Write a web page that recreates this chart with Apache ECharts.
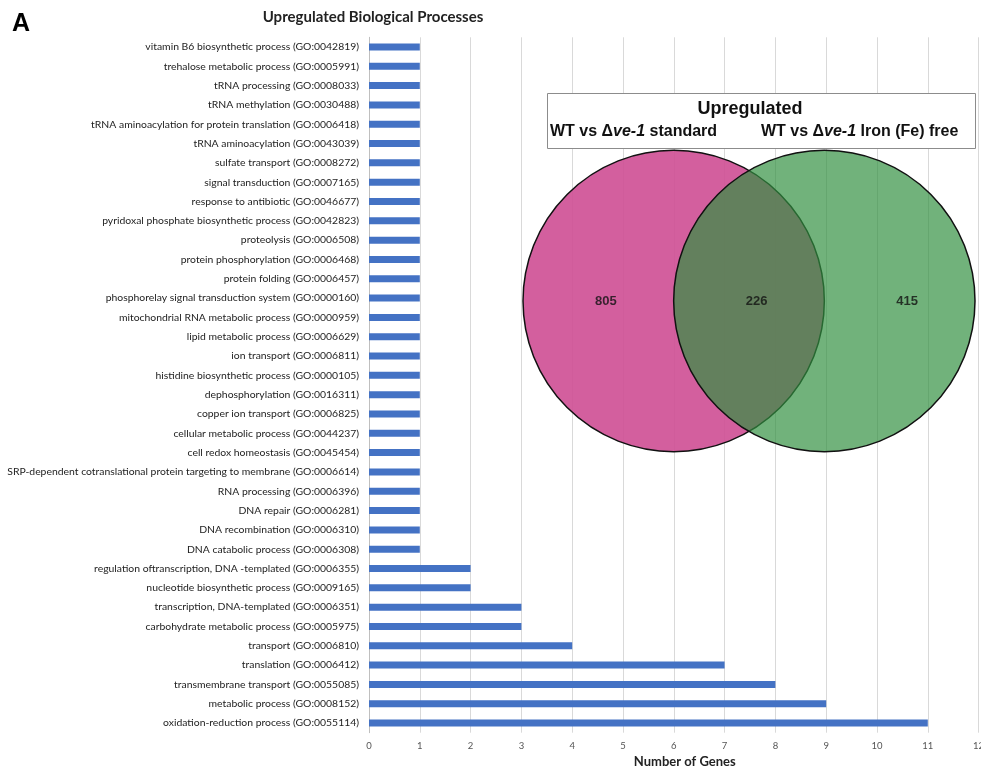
<!DOCTYPE html>
<html>
<head>
<meta charset="utf-8">
<script src="https://cdn.jsdelivr.net/npm/echarts@6/dist/echarts.min.js"></script>
<style>html,body{margin:0;padding:0;background:#fff}#c{width:981px;height:767px}</style>
</head>
<body>
<div id="c"></div>
<script>
// ---- Data ----
const categories = [
  'vitamin B6 biosynthetic process (GO:0042819)',
  'trehalose metabolic process (GO:0005991)',
  'tRNA processing (GO:0008033)',
  'tRNA methylation (GO:0030488)',
  'tRNA aminoacylation for protein translation (GO:0006418)',
  'tRNA aminoacylation (GO:0043039)',
  'sulfate transport (GO:0008272)',
  'signal transduction (GO:0007165)',
  'response to antibiotic (GO:0046677)',
  'pyridoxal phosphate biosynthetic process (GO:0042823)',
  'proteolysis (GO:0006508)',
  'protein phosphorylation (GO:0006468)',
  'protein folding (GO:0006457)',
  'phosphorelay signal transduction system (GO:0000160)',
  'mitochondrial RNA metabolic process (GO:0000959)',
  'lipid metabolic process (GO:0006629)',
  'ion transport (GO:0006811)',
  'histidine biosynthetic process (GO:0000105)',
  'dephosphorylation (GO:0016311)',
  'copper ion transport (GO:0006825)',
  'cellular metabolic process (GO:0044237)',
  'cell redox homeostasis (GO:0045454)',
  'SRP-dependent cotranslational protein targeting to membrane (GO:0006614)',
  'RNA processing (GO:0006396)',
  'DNA repair (GO:0006281)',
  'DNA recombination (GO:0006310)',
  'DNA catabolic process (GO:0006308)',
  'regulation oftranscription, DNA -templated (GO:0006355)',
  'nucleotide biosynthetic process (GO:0009165)',
  'transcription, DNA-templated (GO:0006351)',
  'carbohydrate metabolic process (GO:0005975)',
  'transport (GO:0006810)',
  'translation (GO:0006412)',
  'transmembrane transport (GO:0055085)',
  'metabolic process (GO:0008152)',
  'oxidation-reduction process (GO:0055114)'
];
const geneCounts = [
  1,1,1,1,1,1,1,1,1,1,1,1,1,1,1,1,1,1,1,1,1,1,1,1,1,1,1,
  2,2,3,3,4,7,8,9,11
];
const xTicks = [0,1,2,3,4,5,6,7,8,9,10,11,12];

// Venn diagram data
const vennTitle = 'Upregulated';
const vennSets = ['WT vs Δve-1 standard', 'WT vs Δve-1 Iron (Fe) free'];
const vennCounts = [805, 226, 415]; // left only, both, right only

// ---- Layout / style ----
const setColors = ['rgba(206,78,148,0.9)', 'rgba(49,143,64,0.69)'];
const circleData = vennSets.map((s, i) => [i + 1, 0, s]);
const countData = vennCounts.map((c, i) => [i + 0.55, 0, c]);
const richI = { i: { fontStyle: 'italic', fontWeight: 'bold', fontSize: 16, fontFamily: 'Liberation Sans', fill: '#111' } };

const chart = echarts.init(document.getElementById('c'));
chart.setOption({
  animation: false,
  backgroundColor: '#fff',
  textStyle: { fontFamily: 'Lato' },
  grid: [
    { left: 369, right: 2.4, top: 37.3, bottom: 34.3, containLabel: false, outerBoundsMode: 'none' },
    { left: 523, width: 452, top: 150, height: 302, outerBoundsMode: 'none' }
  ],
  xAxis: [
    {
      gridIndex: 0, type: 'value', min: 0, max: 12, interval: 1,
      name: 'Number of Genes', nameLocation: 'middle', nameGap: 22,
      nameTextStyle: { fontFamily: 'Lato', fontWeight: 'bold', fontSize: 13, color: '#222', padding: [0, 0, 0, 22] },
      axisLine: { show: false }, axisTick: { show: false },
      axisLabel: { fontSize: 9.5, color: '#555', margin: 8, formatter: v => xTicks.includes(v) ? String(v) : '' },
      splitLine: { show: true, lineStyle: { color: '#d9d9d9', width: 1 } }
    },
    { gridIndex: 1, type: 'value', min: 0, max: 3, show: false }
  ],
  yAxis: [
    {
      gridIndex: 0, type: 'category', data: categories, inverse: true,
      axisLine: { show: true, lineStyle: { color: '#bfbfbf', width: 1 } },
      axisTick: { show: false },
      axisLabel: { fontSize: 10.4, color: '#222', margin: 10, interval: 0 },
      splitLine: { show: false }
    },
    { gridIndex: 1, type: 'value', min: -1, max: 1, show: false }
  ],
  series: [
    {
      type: 'bar', xAxisIndex: 0, yAxisIndex: 0, data: geneCounts,
      barWidth: 7, itemStyle: { color: '#4472c4' }, silent: true
    },
    {
      type: 'custom', xAxisIndex: 1, yAxisIndex: 1, data: circleData, clip: false, z: 5,
      renderItem: (params, api) => {
        const c = api.coord([api.value(0), api.value(1)]);
        const r = api.size([1, 0])[0];
        return {
          type: 'circle',
          shape: { cx: c[0], cy: c[1], r: r },
          style: { fill: setColors[params.dataIndex], stroke: '#111', lineWidth: 1.5 }
        };
      }
    },
    {
      type: 'scatter', xAxisIndex: 1, yAxisIndex: 1, data: countData, symbolSize: 0, z: 6,
      label: {
        show: true, position: 'inside', formatter: p => String(p.value[2]),
        fontFamily: 'Liberation Sans', fontWeight: 'bold', fontSize: 13, color: '#111'
      }
    }
  ],
  graphic: [
    { type: 'text', x: 12, y: 24, z: 10, style: { text: 'A', font: 'bold 25px "Liberation Sans"', fill: '#000', textVerticalAlign: 'middle' } },
    { type: 'text', x: 373, y: 17, z: 10, style: { text: 'Upregulated Biological Processes', font: 'bold 15px Lato', fill: '#222', textAlign: 'center', textVerticalAlign: 'middle' } },
    { type: 'rect', z: 10, shape: { x: 547.5, y: 93.5, width: 428, height: 55 }, style: { fill: '#fff', stroke: '#8c8c8c', lineWidth: 1 } },
    { type: 'text', z: 11, x: 750, y: 109, style: { text: vennTitle, font: 'bold 18px "Liberation Sans"', fill: '#111', textAlign: 'center', textVerticalAlign: 'middle' } },
    { type: 'text', z: 11, x: 550, y: 132, style: {
        text: 'WT vs Δ{i|ve-1} standard', font: 'bold 16px "Liberation Sans"', fill: '#111', textVerticalAlign: 'middle', rich: richI } },
    { type: 'text', z: 11, x: 761, y: 132, style: {
        text: 'WT vs Δ{i|ve-1} Iron (Fe) free', font: 'bold 16px "Liberation Sans"', fill: '#111', textVerticalAlign: 'middle', rich: richI } }
  ]
});
</script>
</body>
</html>
